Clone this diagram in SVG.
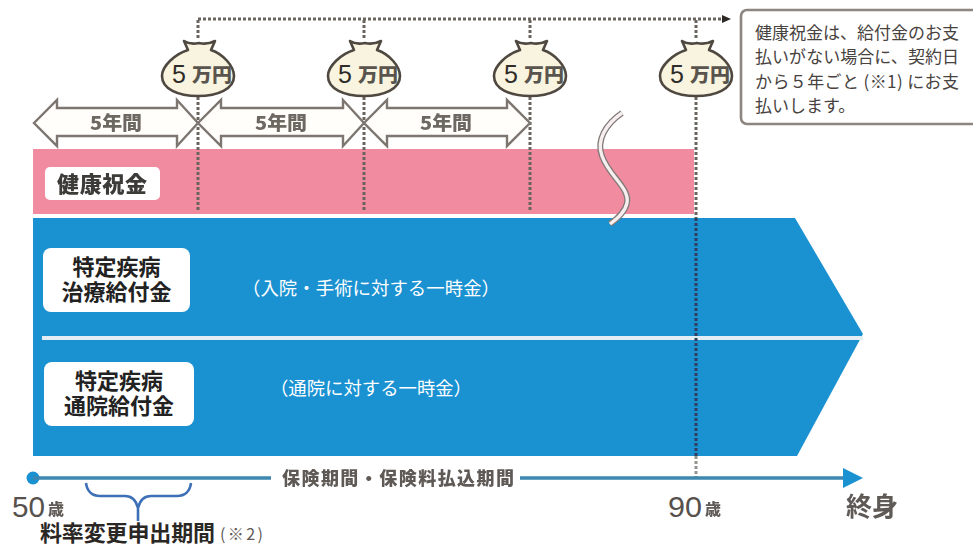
<svg xmlns="http://www.w3.org/2000/svg" width="973" height="547" viewBox="0 0 973 547">
<style>
text{font-family:"Noto Sans CJK JP","Liberation Sans",sans-serif}
.dot{fill:none;stroke:#6a645e;stroke-width:3;stroke-dasharray:3 2}
.dotd{fill:none;stroke:#2f3f5c;stroke-width:3;stroke-dasharray:3 2}
.span{fill:#fffefb;stroke:#7d7670;stroke-width:2.4;stroke-linejoin:miter}
.spant{font-size:19px;font-weight:900;fill:#6e6862;text-anchor:middle}
.bag{fill:#f8f4df;stroke:#4e4841;stroke-width:2.600;stroke-linejoin:round}
.five{font-size:25px;fill:#2f2b28;font-family:"Liberation Sans",sans-serif}
.man{font-size:19px;font-weight:900;fill:#5a544e}
.lab{font-size:22px;font-weight:700;fill:#222;text-anchor:middle}
.wh{font-size:18.400px;fill:#fff}
.call{font-size:17px;fill:#47423e}
.axis{font-weight:900;fill:#5f5a56}
.num{font-family:"Liberation Sans",sans-serif;font-weight:400;font-size:30px;fill:#56514d}
</style>
<defs>
<filter id="soft" x="-5%" y="-20%" width="110%" height="140%"><feGaussianBlur stdDeviation="0.7"/></filter>
<path id="bagshape" d="M-14 -35Q-8 -31 1 -33Q9 -31 17 -35L13 -26C25 -22 36 -10 36 0C36 13 20 20 0 20C-20 20 -36 13 -36 0C-36 -10 -23 -22 -10 -26Z"/>
<marker id="mDot" markerWidth="12" markerHeight="10" refX="2" refY="4" orient="auto" markerUnits="userSpaceOnUse"><path d="M0 0L9 4L0 8Z" fill="#2c2826"/></marker>
</defs>

<g id="bands">
<rect x="33" y="149" width="661" height="65" fill="#f18ba0"/>
<path d="M33 218H795L863 334L797 456H33Z" fill="#1a91d1"/>
<rect x="42" y="336" width="821" height="4" fill="#e3eef4"/>
</g>

<g id="connectors">
<path class="dot" d="M198 19H724" marker-end="url(#mDot)"/>
<path class="dot" d="M198 20V40M364 20V40M530 20V40M696 20V40"/>
<path class="dot" d="M198 97V212M364 97V212M530 97V212"/>
<path class="dot" d="M696 97V218"/>
<path class="dotd" d="M696 218V456"/>
<path class="dot" d="M696 456V478" opacity=".7"/>
</g>

<g id="span1"><path class="span" d="M34 123L57 100V108H177V100L198 123L177 146V136H57V146Z"/><text class="spant" x="116" y="130" textLength="52" lengthAdjust="spacingAndGlyphs" filter="url(#soft)">5年間</text></g>
<g id="span2"><path class="span" d="M198 123L221 100V108H343V100L364 123L343 146V136H221V146Z"/><text class="spant" x="281" y="130" textLength="52" lengthAdjust="spacingAndGlyphs" filter="url(#soft)">5年間</text></g>
<g id="span3"><path class="span" d="M364 123L387 100V108H507V100L530 123L507 146V136H387V146Z"/><text class="spant" x="446" y="130" textLength="52" lengthAdjust="spacingAndGlyphs" filter="url(#soft)">5年間</text></g>

<g id="bag1" transform="translate(198 76)"><use href="#bagshape" class="bag"/><text class="five" x="-26" y="7">5</text><text class="man" x="-6" y="6" textLength="40" lengthAdjust="spacingAndGlyphs">万円</text></g>
<g id="bag2" transform="translate(364 76)"><use href="#bagshape" class="bag"/><text class="five" x="-26" y="7">5</text><text class="man" x="-6" y="6" textLength="40" lengthAdjust="spacingAndGlyphs">万円</text></g>
<g id="bag3" transform="translate(530 76)"><use href="#bagshape" class="bag"/><text class="five" x="-26" y="7">5</text><text class="man" x="-6" y="6" textLength="40" lengthAdjust="spacingAndGlyphs">万円</text></g>
<g id="bag4" transform="translate(696 76)"><use href="#bagshape" class="bag"/><text class="five" x="-26" y="7">5</text><text class="man" x="-6" y="6" textLength="40" lengthAdjust="spacingAndGlyphs">万円</text></g>

<g id="callout">
<rect x="741" y="10" width="240" height="114" rx="6" fill="#fff" stroke="#8d8580" stroke-width="2.600"/>
<text class="call" x="755" y="39" textLength="204">健康祝金は、給付金のお支</text>
<text class="call" x="755" y="63" textLength="204">払いがない場合に、契約日</text>
<text class="call" x="755" y="88" textLength="204">から５年ごと (※1) にお支</text>
<text class="call" x="755" y="112">払いします。</text>
</g>

<g id="break">
<path d="M622 113C606 124 596 140 602 156C609 176 630 188 627 203C625 212 618 218 610 224" fill="none" stroke="#827a78" stroke-width="6"/>
<path d="M622 113C606 124 596 140 602 156C609 176 630 188 627 203C625 212 618 218 610 224" fill="none" stroke="#f7eef0" stroke-width="3.400"/>
</g>

<g id="node-kenko">
<rect x="45" y="167" width="115" height="33" rx="5" fill="#fff"/>
<text x="102" y="192" font-size="22" font-weight="900" fill="#3d3a38" text-anchor="middle" filter="url(#soft)" textLength="90">健康祝金</text>
</g>
<g id="node-chiryo">
<rect x="43" y="248" width="147" height="64" rx="8" fill="#fff"/>
<text class="lab"><tspan x="116.500" y="275">特定疾病</tspan><tspan x="116.500" y="300">治療給付金</tspan></text>
</g>
<g id="node-tsuin">
<rect x="44" y="362" width="150" height="64" rx="8" fill="#fff"/>
<text class="lab"><tspan x="119" y="388.500">特定疾病</tspan><tspan x="119" y="413.500">通院給付金</tspan></text>
</g>
<text class="wh" x="242" y="295" textLength="258">（入院・手術に対する一時金）</text>
<text class="wh" x="270" y="395" textLength="202">（通院に対する一時金）</text>

<g id="timeline">
<circle cx="33" cy="478" r="6.500" fill="#1a91d1"/>
<path d="M33 478H271M520 478H846" stroke="#3d87b0" stroke-width="3.500" fill="none"/>
<path d="M843 468L863 478L843 488Z" fill="#1a91d1"/>
<text class="axis" x="282" y="485" font-size="18" textLength="232" filter="url(#soft)">保険期間・保険料払込期間</text>
<text class="num" x="12" y="517" textLength="33" lengthAdjust="spacingAndGlyphs">50</text>
<text class="axis" x="48" y="515" font-size="16" filter="url(#soft)">歳</text>
<text class="num" x="668" y="517" textLength="34" lengthAdjust="spacingAndGlyphs">90</text>
<text class="axis" x="705" y="515" font-size="16" filter="url(#soft)">歳</text>
<text class="axis" x="846" y="516" font-size="26" font-weight="700" style="font-weight:700" filter="url(#soft)">終身</text>
</g>

<g id="period">
<path d="M86 483C87 491 92 496 100 496H125C132 496 136 500 138 508C140 500 144 496 151 496H177C185 496 190 491 191 483M138 506V521" fill="none" stroke="#3e70b8" stroke-width="2.600"/>
<text x="40" y="540.600" font-size="22" font-weight="700" fill="#2a2725" textLength="175">料率変更申出期間</text>
<text x="220" y="540" font-size="16" fill="#5f5a56" textLength="43">(※2)</text>
</g>
</svg>
